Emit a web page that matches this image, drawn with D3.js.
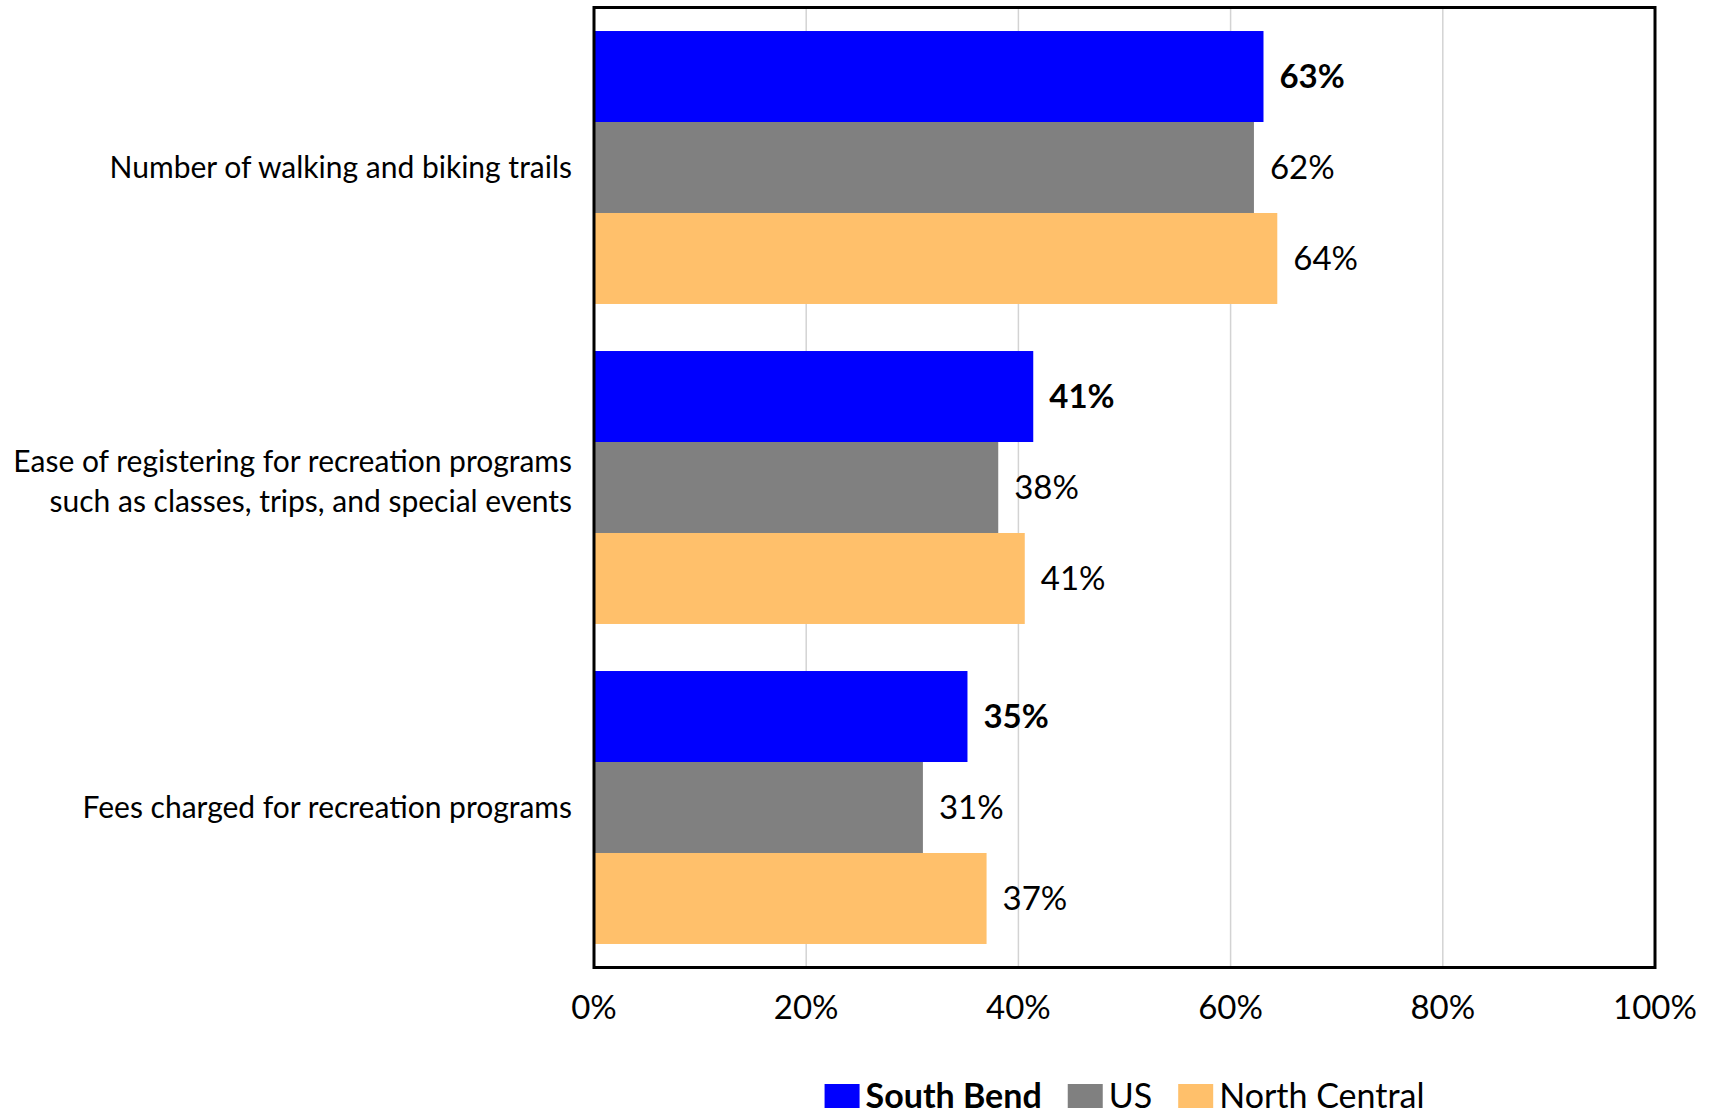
<!DOCTYPE html>
<html>
<head>
<meta charset="utf-8">
<script src="https://cdn.jsdelivr.net/npm/d3@7"></script>
<style>
  body { margin: 0; background: #fff; }
  svg text { font-family: Lato, "Open Sans", sans-serif; fill: #000; }
</style>
</head>
<body>
<div id="chart"></div>
<script>
// Data
const categories = [
	["Number of walking and biking trails"],
	["Ease of registering for recreation programs", "such as classes, trips, and special events"],
	["Fees charged for recreation programs"]
];
const seriesNames = ["South Bend", "US", "North Central"];
const southBend = [63.1, 41.4, 35.2];
const us = [62.2, 38.1, 31.0];
const northCentral = [64.4, 40.6, 37.0];
const xTicks = [0, 20, 40, 60, 80, 100];

const colors = ["#0000ff", "#808080", "#ffc06b"];
const series = [southBend, us, northCentral];

const width = 1718, height = 1115;
const margin = { top: 7.5, right: 63, bottom: 147.5, left: 594 };

const svg = d3.select("#chart")
	.append("svg")
	.attr("width", width)
	.attr("height", height);

const x = d3.scaleLinear()
	.domain([0, 100])
	.range([margin.left, width - margin.right]);

const y0 = d3.scaleBand()
	.domain(d3.range(categories.length))
	.range([margin.top, height - margin.bottom])
	.paddingInner(0.147)
	.paddingOuter(0.0735);

const y1 = d3.scaleBand()
	.domain(d3.range(series.length))
	.range([0, y0.bandwidth()]);

// gridlines
svg.append("g")
	.selectAll("line")
	.data(xTicks.slice(1, -1))
	.enter()
	.append("line")
	.attr("x1", d => x(d))
	.attr("x2", d => x(d))
	.attr("y1", margin.top)
	.attr("y2", height - margin.bottom)
	.attr("stroke", "#d3d3d3")
	.attr("stroke-width", 1.5);

// bars + value labels
const groups = svg.append("g")
	.selectAll("g")
	.data(categories)
	.enter()
	.append("g")
	.attr("transform", (d, i) => "translate(0," + y0(i) + ")");

groups.each(function (cat, ci) {
	const g = d3.select(this);
	series.forEach((vals, si) => {
		g.append("rect")
			.attr("x", x(0))
			.attr("y", y1(si))
			.attr("width", x(vals[ci]) - x(0))
			.attr("height", y1.bandwidth())
			.attr("fill", colors[si]);
		g.append("text")
			.attr("x", x(vals[ci]) + 16)
			.attr("y", y1(si) + y1.bandwidth() / 2)
			.attr("dy", "0.35em")
			.style("font-size", "33px")
			.style("font-weight", si === 0 ? "bold" : "normal")
			.text(Math.round(vals[ci]) + "%");
	});
});

// category labels
const catLabels = svg.append("g")
	.selectAll("text")
	.data(categories)
	.enter()
	.append("text")
	.attr("text-anchor", "end")
	.style("font-size", "30px")
	.attr("transform", (d, i) => "translate(" + (margin.left - 22) + "," + (y0(i) + y0.bandwidth() / 2) + ")");

catLabels.each(function (lines) {
	const t = d3.select(this);
	const lh = 40;
	const shift = lines.length > 1 ? -6 : 0;
	lines.forEach((line, li) => {
		t.append("tspan")
			.attr("x", 0)
			.attr("y", (li - (lines.length - 1) / 2) * lh + shift)
			.attr("dy", "0.35em")
			.text(line);
	});
});

// x axis labels
svg.append("g")
	.selectAll("text")
	.data(xTicks)
	.enter()
	.append("text")
	.attr("x", d => x(d))
	.attr("y", 1019)
	.attr("text-anchor", "middle")
	.style("font-size", "33px")
	.text(d => d + "%");

// frame
svg.append("rect")
	.attr("x", x(0))
	.attr("y", margin.top)
	.attr("width", x(100) - x(0))
	.attr("height", height - margin.bottom - margin.top)
	.attr("fill", "none")
	.attr("stroke", "#000")
	.attr("stroke-width", 3);

// legend
const legend = svg.append("g").attr("class", "legend");
const legendItems = [];
seriesNames.forEach((name, i) => {
	const item = legend.append("g");
	item.append("rect")
		.attr("x", 0)
		.attr("y", -24)
		.attr("width", 35)
		.attr("height", 24)
		.attr("fill", colors[i]);
	item.append("text")
		.attr("x", 41)
		.attr("y", 0)
		.style("font-size", "34px")
		.style("font-weight", i === 0 ? "bold" : "normal")
		.text(name);
	legendItems.push(item);
});
let lx = 0;
legendItems.forEach(item => {
	item.attr("transform", "translate(" + lx + ",0)");
	lx += item.node().getBBox().width + 26;
});
const legendWidth = lx - 26;
legend.attr("transform", "translate(" + ((x(0) + x(100)) / 2 - legendWidth / 2) + ",1108)");
</script>
</body>
</html>
